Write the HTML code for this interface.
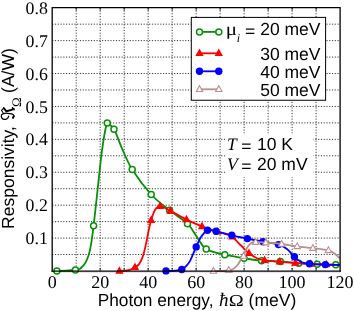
<!DOCTYPE html>
<html><head><meta charset="utf-8"><title>Responsivity</title>
<style>html,body{margin:0;padding:0;background:#fff;}svg{display:block;will-change:transform;}text{text-rendering:geometricPrecision;}</style></head>
<body>
<svg width="354" height="311" viewBox="0 0 354 311">
<rect width="354" height="311" fill="#fff"/>
<path d="M76.19 7.70V271.00M100.18 7.70V271.00M124.18 7.70V271.00M148.17 7.70V271.00M172.16 7.70V271.00M196.15 7.70V271.00M220.14 7.70V271.00M244.13 7.70V271.00M268.13 7.70V271.00M292.12 7.70V271.00M316.11 7.70V271.00M52.20 254.54H340.10M52.20 238.09H340.10M52.20 221.63H340.10M52.20 205.18H340.10M52.20 188.72H340.10M52.20 172.26H340.10M52.20 155.81H340.10M52.20 139.35H340.10M52.20 122.89H340.10M52.20 106.44H340.10M52.20 89.98H340.10M52.20 73.52H340.10M52.20 57.07H340.10M52.20 40.61H340.10M52.20 24.16H340.10" stroke="#000" stroke-width="1" stroke-dasharray="1.15 1.62" fill="none" opacity="0.8"/>
<path d="M76.19 7.70v3M76.19 271.00v-3M100.18 7.70v3M100.18 271.00v-3M124.18 7.70v3M124.18 271.00v-3M148.17 7.70v3M148.17 271.00v-3M172.16 7.70v3M172.16 271.00v-3M196.15 7.70v3M196.15 271.00v-3M220.14 7.70v3M220.14 271.00v-3M244.13 7.70v3M244.13 271.00v-3M268.13 7.70v3M268.13 271.00v-3M292.12 7.70v3M292.12 271.00v-3M316.11 7.70v3M316.11 271.00v-3" stroke="#000" stroke-width="0.8" fill="none"/>
<clipPath id="c"><rect x="52.20" y="5.70" width="288.50" height="269.30"/></clipPath>
<g>
<path d="M52.2 272.1H340.1" stroke="#dcc0e4" stroke-width="0.9"/>
<path d="M56.90 270.90 C58.42 270.87 62.92 270.85 66.00 270.70 C69.08 270.55 73.12 270.28 75.40 270.00 C77.68 269.72 78.57 269.57 79.70 269.00 C80.83 268.43 81.38 267.42 82.20 266.60 C83.02 265.78 83.85 265.18 84.60 264.10 C85.35 263.02 86.03 261.57 86.70 260.10 C87.37 258.63 88.02 257.17 88.60 255.30 C89.18 253.43 89.72 251.18 90.20 248.90 C90.68 246.62 90.93 245.45 91.50 241.60 C92.07 237.75 92.77 232.73 93.60 225.80 C94.43 218.87 95.30 210.97 96.50 200.00 C97.70 189.03 99.68 169.63 100.80 160.00 C101.92 150.37 102.40 147.45 103.20 142.20 C104.00 136.95 104.92 131.70 105.60 128.50 C106.28 125.30 107.02 123.92 107.30 123.00" fill="none" stroke="#089008" stroke-width="1.8" stroke-linejoin="round"/>
<path d="M107.30 123.00 C108.42 124.05 111.53 125.03 114.00 129.30 C116.47 133.57 119.07 141.90 122.10 148.60 C125.13 155.30 127.35 161.85 132.20 169.50 C137.05 177.15 144.97 187.70 151.20 194.50 C157.43 201.30 163.55 205.43 169.60 210.30 C175.65 215.17 182.93 219.25 187.50 223.70 C192.07 228.15 193.88 232.78 197.00 237.00 C200.12 241.22 201.57 246.05 206.20 249.00 C210.83 251.95 218.50 253.17 224.80 254.70 C231.10 256.23 237.87 257.18 244.00 258.20 C250.13 259.22 255.55 260.25 261.60 260.80 C267.65 261.35 274.12 261.08 280.30 261.50 C286.48 261.92 292.55 262.83 298.70 263.30 C304.85 263.77 311.02 264.07 317.20 264.30 C323.38 264.53 332.07 264.62 335.80 264.70 C339.53 264.78 338.97 264.78 339.60 264.80" fill="none" stroke="#089008" stroke-width="1.8" stroke-linejoin="round"/>
<circle cx="56.9" cy="270.9" r="3.0" fill="#fff" stroke="#089008" stroke-width="1.5"/><circle cx="75.4" cy="270.0" r="3.0" fill="#fff" stroke="#089008" stroke-width="1.5"/><circle cx="93.6" cy="225.8" r="3.0" fill="#fff" stroke="#089008" stroke-width="1.5"/><circle cx="107.3" cy="123.0" r="3.0" fill="#fff" stroke="#089008" stroke-width="1.5"/><circle cx="114.0" cy="129.3" r="3.0" fill="#fff" stroke="#089008" stroke-width="1.5"/><circle cx="132.2" cy="169.5" r="3.0" fill="#fff" stroke="#089008" stroke-width="1.5"/><circle cx="151.2" cy="194.5" r="3.0" fill="#fff" stroke="#089008" stroke-width="1.5"/><circle cx="169.6" cy="210.3" r="3.0" fill="#fff" stroke="#089008" stroke-width="1.5"/><circle cx="187.5" cy="223.7" r="3.0" fill="#fff" stroke="#089008" stroke-width="1.5"/><circle cx="206.2" cy="249.0" r="3.0" fill="#fff" stroke="#089008" stroke-width="1.5"/><circle cx="224.8" cy="254.7" r="3.0" fill="#fff" stroke="#089008" stroke-width="1.5"/><circle cx="244.0" cy="258.2" r="3.0" fill="#fff" stroke="#089008" stroke-width="1.5"/><circle cx="261.6" cy="260.8" r="3.0" fill="#fff" stroke="#089008" stroke-width="1.5"/><circle cx="280.3" cy="261.5" r="3.0" fill="#fff" stroke="#089008" stroke-width="1.5"/><circle cx="298.7" cy="263.3" r="3.0" fill="#fff" stroke="#089008" stroke-width="1.5"/><circle cx="317.2" cy="264.3" r="3.0" fill="#fff" stroke="#089008" stroke-width="1.5"/><circle cx="335.8" cy="264.7" r="3.0" fill="#fff" stroke="#089008" stroke-width="1.5"/>
<path d="M119.40 271.00 C120.67 270.90 124.90 270.73 127.00 270.40 C129.10 270.07 130.67 269.52 132.00 269.00 C133.33 268.48 133.85 268.07 135.00 267.30 C136.15 266.53 137.70 265.92 138.90 264.40 C140.10 262.88 141.25 260.58 142.20 258.20 C143.15 255.82 143.85 253.05 144.60 250.10 C145.35 247.15 146.03 243.72 146.70 240.50 C147.37 237.28 147.87 234.18 148.60 230.80 C149.33 227.42 150.03 223.67 151.10 220.20 C152.17 216.73 153.52 212.33 155.00 210.00 C156.48 207.67 157.43 206.05 160.00 206.20 C162.57 206.35 165.98 208.67 170.40 210.90 C174.82 213.13 181.23 217.02 186.50 219.60 C191.77 222.18 196.82 224.38 202.00 226.40 C207.18 228.42 213.60 230.40 217.60 231.70 C221.60 233.00 223.57 233.37 226.00 234.20 C228.43 235.03 229.70 234.82 232.20 236.70 C234.70 238.58 238.20 242.73 241.00 245.50 C243.80 248.27 246.33 251.18 249.00 253.30 C251.67 255.42 254.40 257.03 257.00 258.20 C259.60 259.37 260.82 259.70 264.60 260.30 C268.38 260.90 274.58 261.35 279.70 261.80 C284.82 262.25 290.12 262.63 295.30 263.00 C300.48 263.37 305.63 263.73 310.80 264.00 C315.97 264.27 321.50 264.43 326.30 264.60 C331.10 264.77 337.38 264.93 339.60 265.00" fill="none" stroke="#ff0000" stroke-width="1.8"/>
<path d="M119.4 267.4L122.6 273.2L116.2 273.2Z" fill="#ff0000" stroke="#ff0000" stroke-width="1.1" stroke-linejoin="miter"/><path d="M135.0 263.7L138.2 269.5L131.8 269.5Z" fill="#ff0000" stroke="#ff0000" stroke-width="1.1" stroke-linejoin="miter"/><path d="M151.1 216.6L154.3 222.4L147.9 222.4Z" fill="#ff0000" stroke="#ff0000" stroke-width="1.1" stroke-linejoin="miter"/><path d="M160.0 202.6L163.2 208.4L156.8 208.4Z" fill="#ff0000" stroke="#ff0000" stroke-width="1.1" stroke-linejoin="miter"/><path d="M170.4 207.3L173.6 213.1L167.2 213.1Z" fill="#ff0000" stroke="#ff0000" stroke-width="1.1" stroke-linejoin="miter"/><path d="M186.5 216.0L189.7 221.8L183.3 221.8Z" fill="#ff0000" stroke="#ff0000" stroke-width="1.1" stroke-linejoin="miter"/><path d="M202.0 222.8L205.2 228.6L198.8 228.6Z" fill="#ff0000" stroke="#ff0000" stroke-width="1.1" stroke-linejoin="miter"/><path d="M217.6 228.1L220.8 233.9L214.4 233.9Z" fill="#ff0000" stroke="#ff0000" stroke-width="1.1" stroke-linejoin="miter"/><path d="M232.2 233.1L235.4 238.9L229.0 238.9Z" fill="#ff0000" stroke="#ff0000" stroke-width="1.1" stroke-linejoin="miter"/><path d="M249.0 249.7L252.2 255.5L245.8 255.5Z" fill="#ff0000" stroke="#ff0000" stroke-width="1.1" stroke-linejoin="miter"/><path d="M264.6 256.7L267.8 262.5L261.4 262.5Z" fill="#ff0000" stroke="#ff0000" stroke-width="1.1" stroke-linejoin="miter"/><path d="M279.7 258.2L282.9 264.0L276.5 264.0Z" fill="#ff0000" stroke="#ff0000" stroke-width="1.1" stroke-linejoin="miter"/><path d="M295.3 259.4L298.5 265.2L292.1 265.2Z" fill="#ff0000" stroke="#ff0000" stroke-width="1.1" stroke-linejoin="miter"/><path d="M310.8 260.4L314.0 266.2L307.6 266.2Z" fill="#ff0000" stroke="#ff0000" stroke-width="1.1" stroke-linejoin="miter"/><path d="M326.3 261.0L329.5 266.8L323.1 266.8Z" fill="#ff0000" stroke="#ff0000" stroke-width="1.1" stroke-linejoin="miter"/>
<path d="M166.00 271.00 C167.50 270.95 172.37 270.95 175.00 270.70 C177.63 270.45 179.95 270.25 181.80 269.50 C183.65 268.75 184.70 267.68 186.10 266.20 C187.50 264.72 188.98 262.75 190.20 260.60 C191.42 258.45 192.40 255.58 193.40 253.30 C194.40 251.02 194.93 249.62 196.20 246.90 C197.47 244.18 199.12 239.77 201.00 237.00 C202.88 234.23 204.98 231.25 207.50 230.30 C210.02 229.35 212.05 230.47 216.10 231.30 C220.15 232.13 226.58 234.08 231.80 235.30 C237.02 236.52 242.18 237.53 247.40 238.60 C252.62 239.67 257.92 240.70 263.10 241.70 C268.28 242.70 274.52 243.38 278.50 244.60 C282.48 245.82 284.35 246.97 287.00 249.00 C289.65 251.03 291.93 254.58 294.40 256.80 C296.87 259.02 299.28 261.13 301.80 262.30 C304.32 263.47 305.57 263.42 309.50 263.80 C313.43 264.18 320.38 264.40 325.40 264.60 C330.42 264.80 337.23 264.93 339.60 265.00" fill="none" stroke="#0000ff" stroke-width="1.8"/>
<circle cx="166.0" cy="270.9" r="3.7" fill="#0000ff"/><circle cx="181.8" cy="269.5" r="3.7" fill="#0000ff"/><circle cx="196.2" cy="246.9" r="3.7" fill="#0000ff"/><circle cx="207.5" cy="230.3" r="3.7" fill="#0000ff"/><circle cx="216.1" cy="231.3" r="3.7" fill="#0000ff"/><circle cx="231.8" cy="235.3" r="3.7" fill="#0000ff"/><circle cx="247.4" cy="238.6" r="3.7" fill="#0000ff"/><circle cx="263.1" cy="241.7" r="3.7" fill="#0000ff"/><circle cx="278.5" cy="244.6" r="3.7" fill="#0000ff"/><circle cx="294.4" cy="256.8" r="3.7" fill="#0000ff"/><circle cx="309.5" cy="263.8" r="3.7" fill="#0000ff"/><circle cx="325.4" cy="264.6" r="3.7" fill="#0000ff"/>
<path d="M213.40 271.20 C214.83 271.17 219.45 271.13 222.00 271.00 C224.55 270.87 226.85 270.73 228.70 270.40 C230.55 270.07 231.68 269.82 233.10 269.00 C234.52 268.18 235.85 267.12 237.20 265.50 C238.55 263.88 240.15 260.88 241.20 259.30 C242.25 257.72 242.52 257.95 243.50 256.00 C244.48 254.05 245.75 249.80 247.10 247.60 C248.45 245.40 250.17 243.73 251.60 242.80 C253.03 241.87 253.33 242.02 255.70 242.00 C258.07 241.98 261.47 242.37 265.80 242.70 C270.13 243.03 276.47 243.38 281.70 244.00 C286.93 244.62 292.00 245.70 297.20 246.40 C302.40 247.10 307.70 247.53 312.90 248.20 C318.10 248.87 324.85 249.55 328.40 250.40 C331.95 251.25 332.30 252.00 334.20 253.30 C336.10 254.60 338.87 257.38 339.80 258.20" fill="none" stroke="#bc8f8f" stroke-width="1.8"/>
<path d="M213.4 267.4L216.6 273.2L210.2 273.2Z" fill="#fff" stroke="#bc8f8f" stroke-width="1.1" stroke-linejoin="miter"/><path d="M228.7 266.6L231.9 272.4L225.5 272.4Z" fill="#fff" stroke="#bc8f8f" stroke-width="1.1" stroke-linejoin="miter"/><path d="M243.5 252.4L246.7 258.2L240.3 258.2Z" fill="#fff" stroke="#bc8f8f" stroke-width="1.1" stroke-linejoin="miter"/><path d="M255.7 238.6L258.9 244.4L252.5 244.4Z" fill="#fff" stroke="#bc8f8f" stroke-width="1.1" stroke-linejoin="miter"/><path d="M265.8 239.1L269.0 244.9L262.6 244.9Z" fill="#fff" stroke="#bc8f8f" stroke-width="1.1" stroke-linejoin="miter"/><path d="M281.7 240.4L284.9 246.2L278.5 246.2Z" fill="#fff" stroke="#bc8f8f" stroke-width="1.1" stroke-linejoin="miter"/><path d="M297.2 242.8L300.4 248.6L294.0 248.6Z" fill="#fff" stroke="#bc8f8f" stroke-width="1.1" stroke-linejoin="miter"/><path d="M312.9 244.6L316.1 250.4L309.7 250.4Z" fill="#fff" stroke="#bc8f8f" stroke-width="1.1" stroke-linejoin="miter"/><path d="M328.4 246.8L331.6 252.6L325.2 252.6Z" fill="#fff" stroke="#bc8f8f" stroke-width="1.1" stroke-linejoin="miter"/>
</g>
<path d="M52.20 271.80V7.70H340.10V271.80" fill="none" stroke="#000" stroke-width="1.3" stroke-linejoin="miter"/>
<path d="M51.55 271.2H340.75" stroke="#000" stroke-width="1.3"/>
<g font-family="Liberation Serif, serif" font-size="17" fill="#000">
<text x="52.2" y="288.1" text-anchor="middle" font-size="18">0</text>
<text x="100.2" y="288.1" text-anchor="middle" font-size="18">20</text>
<text x="148.2" y="288.1" text-anchor="middle" font-size="18">40</text>
<text x="196.2" y="288.1" text-anchor="middle" font-size="18">60</text>
<text x="244.1" y="288.1" text-anchor="middle" font-size="18">80</text>
<text x="292.1" y="288.1" text-anchor="middle" font-size="18">100</text>
<text x="340.1" y="288.1" text-anchor="middle" font-size="18">120</text>
<text x="47.8" y="244.2" text-anchor="end" font-size="17.8">0.1</text>
<text x="47.8" y="211.3" text-anchor="end" font-size="17.8">0.2</text>
<text x="47.8" y="178.4" text-anchor="end" font-size="17.8">0.3</text>
<text x="47.8" y="145.4" text-anchor="end" font-size="17.8">0.4</text>
<text x="47.8" y="112.5" text-anchor="end" font-size="17.8">0.5</text>
<text x="47.8" y="79.6" text-anchor="end" font-size="17.8">0.6</text>
<text x="47.8" y="46.7" text-anchor="end" font-size="17.8">0.7</text>
<text x="47.8" y="13.8" text-anchor="end" font-size="17.8">0.8</text>
</g>
<g font-family="Liberation Sans, sans-serif" font-size="17.5" fill="#000">
<text x="97.7" y="305.8" textLength="115.8" lengthAdjust="spacingAndGlyphs">Photon energy,</text>
<text x="218.9" y="305.6" font-family="Liberation Serif, serif" font-style="italic" font-size="19">ħ</text>
<text transform="translate(228.8 305.6) scale(1.12 0.92)" font-family="Liberation Serif, serif" font-size="18">Ω</text>
<text x="248.6" y="305.8">(meV)</text>
<text transform="translate(13.9 228.9) rotate(-90)">Responsivity,</text>
<text transform="translate(21.2 106.9) rotate(-90)" font-size="13" font-family="Liberation Serif, serif">Ω</text>
<text transform="translate(13.9 92.9) rotate(-90)">(A/W)</text>
<g transform="translate(0.87 120.78) rotate(-90)" fill="none" stroke="#000" stroke-linecap="round" stroke-linejoin="round">
<path d="M4.6 7.8C3.5 7.5 1.6 6.5 1.4 4.9C1.2 3 1.8 1.5 2.9 0.9C4 0.3 5 0.3 5.8 0.6C6.6 1 7 1.8 7.2 2.6C7.5 4 7.6 5.5 7.5 6.7C7.4 8 7.2 9.5 6.9 10.7C6.6 12 6 12.8 5.2 13C4.3 13.2 3.5 12.8 2.9 12.2" stroke-width="1.25"/>
<path d="M7.2 2.6C8.2 2.2 9.6 1.5 10.4 0.6L12.7 2.9" stroke-width="1.1"/>
<path d="M12.7 2.9L9.5 5.5C10 8 10.8 11 11.9 13" stroke-width="1.9"/>
<path d="M11 13.2L13.2 11.6" stroke-width="1.3"/>
<path d="M4.6 12.9L3 12.1" stroke-width="1.9"/>
</g>
</g>
<rect x="225.5" y="133.5" width="88" height="43.7" fill="#fff"/>
<g font-family="Liberation Sans, sans-serif" font-size="17.5" fill="#000">
<text x="227.0" y="149.7"><tspan font-family="Liberation Serif, serif" font-style="italic">T</tspan><tspan x="241.3" dy="2">=</tspan><tspan x="257.0" dy="-2">10 K</tspan></text>
<text x="227.0" y="170.1"><tspan font-family="Liberation Serif, serif" font-style="italic">V</tspan><tspan x="241.3" dy="2">=</tspan><tspan x="257.0" dy="-2">20 mV</tspan></text>
</g>
<rect x="191.3" y="17.4" width="134.3" height="82.85" fill="#fff" stroke="#000" stroke-width="1"/>
<path d="M199.5 31.9H218.8" stroke="#089008" stroke-width="1.8"/>
<circle cx="199.5" cy="31.9" r="3.0" fill="#fff" stroke="#089008" stroke-width="1.5"/><circle cx="218.8" cy="31.9" r="3.0" fill="#fff" stroke="#089008" stroke-width="1.5"/>
<path d="M199.5 53.3H218.8" stroke="#ff0000" stroke-width="1.8"/>
<path d="M199.5 49.7L202.7 55.5L196.3 55.5Z" fill="#ff0000" stroke="#ff0000" stroke-width="1.1" stroke-linejoin="miter"/><path d="M218.8 49.7L222.0 55.5L215.6 55.5Z" fill="#ff0000" stroke="#ff0000" stroke-width="1.1" stroke-linejoin="miter"/>
<path d="M199.5 71.3H218.8" stroke="#0000ff" stroke-width="1.8"/>
<circle cx="199.5" cy="71.3" r="3.7" fill="#0000ff"/><circle cx="218.8" cy="71.3" r="3.7" fill="#0000ff"/>
<path d="M199.5 89.3H218.8" stroke="#bc8f8f" stroke-width="1.8"/>
<path d="M199.5 85.7L202.7 91.5L196.3 91.5Z" fill="#fff" stroke="#bc8f8f" stroke-width="1.1" stroke-linejoin="miter"/><path d="M218.8 85.7L222.0 91.5L215.6 91.5Z" fill="#fff" stroke="#bc8f8f" stroke-width="1.1" stroke-linejoin="miter"/>
<g font-family="Liberation Sans, sans-serif" font-size="17.5" fill="#000">
<text transform="translate(225.7 34.9) scale(1.17 1)" font-family="Liberation Serif, serif" font-size="18">μ</text>
<text x="236.7" y="41.7" font-family="Liberation Serif, serif" font-style="italic" font-size="12">i</text>
<text x="244.9" y="36.9">=</text>
<text x="320.5" y="34.9" text-anchor="end">20 meV</text>
<text x="320.5" y="59.7" text-anchor="end">30 meV</text>
<text x="320.5" y="77.8" text-anchor="end">40 meV</text>
<text x="320.5" y="95.5" text-anchor="end">50 meV</text>
</g>
</svg>
</body></html>
